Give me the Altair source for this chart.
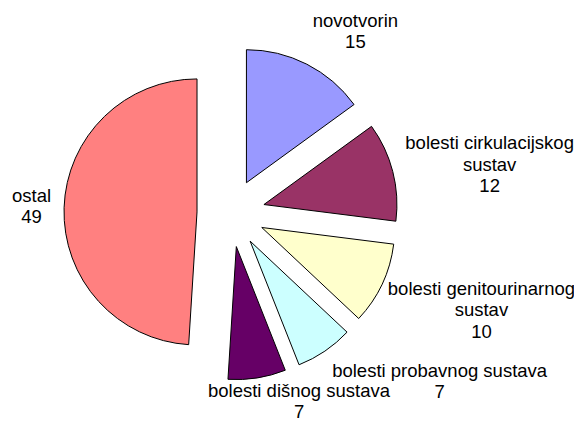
import altair as alt
import pandas as pd

# ---- data ----
categories = [
    "novotvorin",
    "bolesti cirkulacijskog sustav",
    "bolesti genitourinarnog sustav",
    "bolesti probavnog sustava",
    "bolesti dišnog sustava",
    "ostal",
]
label_names = [
    "novotvorin",
    "bolesti cirkulacijskog\nsustav",
    "bolesti genitourinarnog\nsustav",
    "bolesti probavnog sustava",
    "bolesti dišnog sustava",
    "ostal",
]
values = [15, 12, 10, 7, 7, 49]
colors = ["#9999FF", "#993366", "#FFFFCC", "#CCFFFF", "#660066", "#FF8080"]

# ---- style / layout constants ----
W, H = 566, 410
CX, CY = 223, 205      # pie centre (px in plot area)
EXPLODE = 34           # explosion distance
R = 133                # pie radius
LR = 180               # label anchor radius
KX, KY, BY = 1.4, 0.55, 0.25   # label box anchoring factors
FONT_SIZE = 18.5
LINE_H = 21.5
XMAX = W + 1           # keep labels inside the drawing
YMAX = H - 6           # lowest first-line position allowed for the last line to fit

# Arial / Liberation Sans advance widths (per 1000 em) for text-width estimates
ARIAL_W = {
    "a": 556, "b": 556, "c": 500, "d": 556, "e": 556, "f": 278, "g": 556, "h": 556,
    "i": 222, "j": 222, "k": 500, "l": 222, "m": 833, "n": 556, "o": 556, "p": 556,
    "q": 556, "r": 333, "s": 500, "t": 278, "u": 556, "v": 500, "w": 722, "x": 500,
    "y": 500, "z": 500, " ": 278, "š": 500,
}


def text_width(s):
    return sum(ARIAL_W.get(ch, 556) for ch in s) * FONT_SIZE / 1000.0


df = pd.DataFrame({
    "cat": categories,
    "name": label_names,
    "value": values,
    "order": list(range(len(values))),
})
df["label"] = [f"{n}\n{v}" for n, v in zip(label_names, values)]
df["nlines"] = [lbl.count("\n") + 1 for lbl in df["label"]]
df["tw"] = [max(text_width(s) for s in lbl.split("\n")) for lbl in df["label"]]

base = (
    alt.Chart(df)
    .transform_joinaggregate(total="sum(value)")
    .transform_window(cum="sum(value)", sort=[alt.SortField("order")], frame=[None, 0])
    .transform_calculate(t0="2*PI*(datum.cum - datum.value)/datum.total")
    .transform_calculate(t1="2*PI*datum.cum/datum.total")
    .transform_calculate(mid="(datum.t0 + datum.t1)/2")
    .transform_calculate(cx=f"{CX} + {EXPLODE}*sin(datum.mid)")
    .transform_calculate(cy=f"{CY} - {EXPLODE}*cos(datum.mid)")
)

arcs = base.mark_arc(radius=R, stroke="black", strokeWidth=1).encode(
    x=alt.X("cx:Q", scale=None, axis=None),
    y=alt.Y("cy:Q", scale=None, axis=None),
    theta=alt.Theta("t0:Q", scale=None),
    theta2="t1:Q",
    color=alt.Color("cat:N", scale=alt.Scale(domain=categories, range=colors), legend=None),
)

labels = (
    base.transform_calculate(ax=f"{CX} + {LR}*sin(datum.mid)")
    .transform_calculate(ay=f"{CY} - {LR}*cos(datum.mid)")
    .transform_calculate(fx=f"clamp(0.5 - {KX}*sin(datum.mid), 0, 1)")
    .transform_calculate(fy=f"clamp(0.5 + {KY}*cos(datum.mid), 0, 1) + {BY}")
    .transform_calculate(lx0="datum.ax + (0.5 - datum.fx)*datum.tw")
    .transform_calculate(lx=f"min(datum.lx0, {XMAX} - datum.tw/2)")
    .transform_calculate(ly0=f"datum.ay + (0.5 - datum.fy)*datum.nlines*{LINE_H}")
    .transform_calculate(ly=f"min(datum.ly0, {YMAX} - (datum.nlines - 1)*{LINE_H})")
    .mark_text(
        font="Liberation Sans",
        fontSize=FONT_SIZE,
        lineHeight=LINE_H,
        lineBreak="\n",
        align="center",
        baseline="middle",
        color="black",
    )
    .encode(
        x=alt.X("lx:Q", scale=None, axis=None),
        y=alt.Y("ly:Q", scale=None, axis=None),
        text="label:N",
    )
)

chart = (
    alt.layer(arcs, labels)
    .properties(
        width=W,
        height=H,
        padding=0,
        autosize=alt.AutoSizeParams(type="none"),
        background="white",
    )
    .configure_view(stroke=None)
)

chart.save("out.html", embed_options={"renderer": "svg", "actions": False})
